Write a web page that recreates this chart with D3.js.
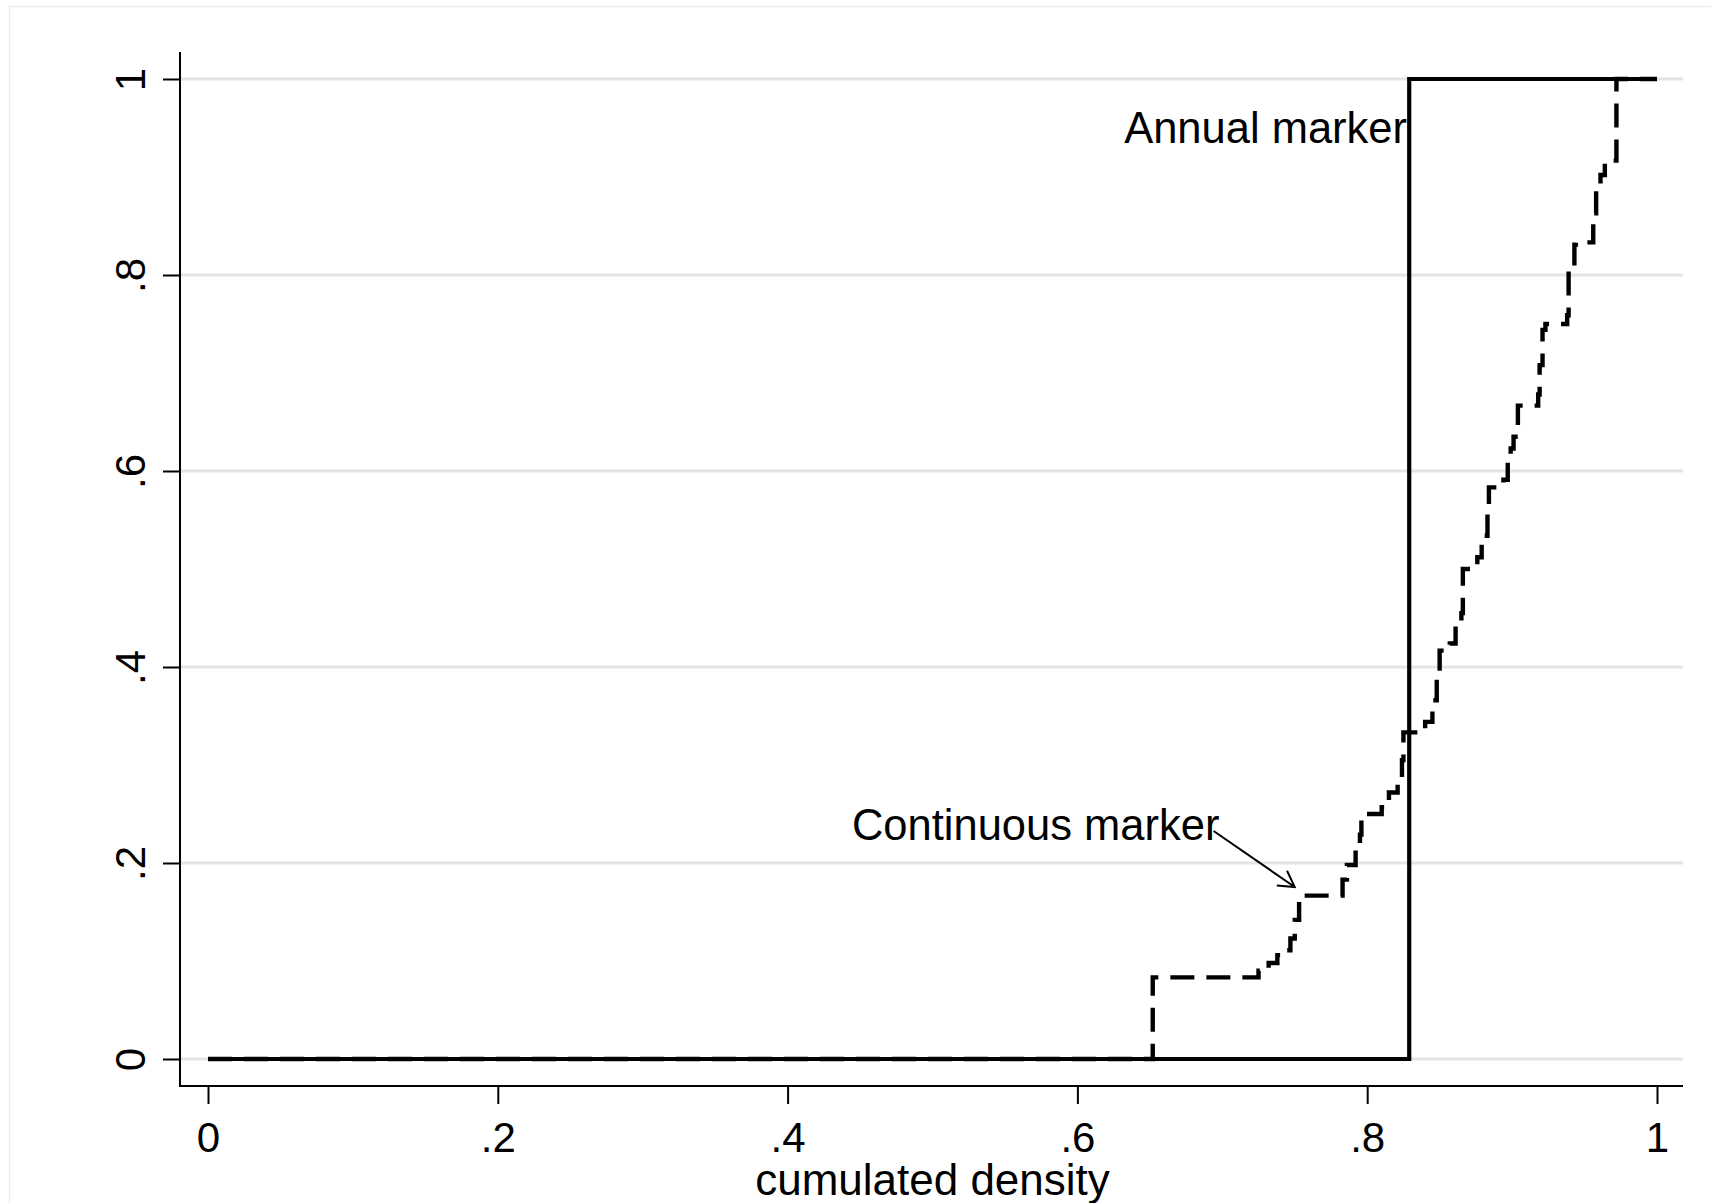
<html>
<head>
<meta charset="utf-8">
<script src="https://d3js.org/d3.v7.min.js"></script>
<style>
    body { margin: 0; background: #fff; }
    svg { display: block; font-family: "Liberation Sans", Arial, sans-serif; }
    .grid line { stroke: #e4e4e4; stroke-width: 3; }
    .axis line { stroke: #000; stroke-width: 2; }
    .axis text { font-size: 42px; fill: #000; }
</style>
</head>
<body>
<svg width="1711" height="1203"></svg>
<script>
// annual marker: one jump
var annualX = [0, 0.829, 1];
var annualY = [0, 1, 1];

var contX = [0, 0.652, 0.725, 0.732, 0.738, 0.742, 0.747, 0.750, 0.753,
             0.783, 0.786, 0.792, 0.795, 0.796,
             0.810, 0.815, 0.821, 0.824, 0.825,
             0.840, 0.845, 0.848, 0.850,
             0.857, 0.861, 0.865, 0.866,
             0.876, 0.879, 0.883, 0.884,
             0.894, 0.897, 0.899, 0.901, 0.904,
             0.918, 0.919, 0.921, 0.923,
             0.938, 0.939, 0.943, 0.944,
             0.956, 0.958, 0.961, 0.964,
             0.972, 1];
var contY = [0, 0.0833, 0.090, 0.098, 0.106, 0.111, 0.123, 0.142, 0.1667,
             0.183, 0.198, 0.220, 0.229, 0.25,
             0.257, 0.272, 0.285, 0.305, 0.3333,
             0.344, 0.366, 0.387, 0.4167,
             0.424, 0.445, 0.455, 0.5,
             0.512, 0.534, 0.560, 0.5833,
             0.591, 0.611, 0.623, 0.635, 0.6667,
             0.678, 0.708, 0.744, 0.75,
             0.759, 0.805, 0.831, 0.8333,
             0.863, 0.887, 0.902, 0.9167,
             1, 1];

var xTicks = [0, 0.2, 0.4, 0.6, 0.8, 1];
var xTickLabels = ["0", ".2", ".4", ".6", ".8", "1"];
var yTicks = [0, 0.2, 0.4, 0.6, 0.8, 1];
var yTickLabels = ["0", ".2", ".4", ".6", ".8", "1"];

var labels = ["Annual marker", "Continuous marker"];
var labelX = [0.8275, 0.698];
var labelY = [0.9347, 0.2235];
var arrowFrom = [0.694, 0.2327];
var arrowTo = [0.750, 0.1755];

var xTitle = "cumulated density";

// layout
var plot = { left: 180, right: 1683, top: 52, bottom: 1086 };
var x = d3.scaleLinear().domain([0, 1]).range([208, 1657]);
var y = d3.scaleLinear().domain([0, 1]).range([1059, 79]);

var svg = d3.select('svg');

// light outer frame of the graph region
svg.append('rect')
    .attr('x', 9.5).attr('y', 6.5)
    .attr('width', 1800).attr('height', 1300)
    .attr('fill', 'none')
    .attr('stroke', '#ececec')
    .attr('stroke-width', 1.5);

// gridlines
svg.append('g')
    .attr('class', 'grid')
    .selectAll('line')
    .data(yTicks)
    .enter()
    .append('line')
    .attr('x1', plot.left).attr('x2', plot.right)
    .attr('y1', function(d) { return y(d); })
    .attr('y2', function(d) { return y(d); });

// axes
var yAxis = svg.append('g')
    .attr('class', 'axis')
    .attr('transform', 'translate(' + plot.left + ',0)')
    .call(d3.axisLeft(y).tickValues(yTicks).tickSize(17)
        .tickFormat(function(d, i) { return yTickLabels[i]; }));
yAxis.select('.domain').remove();
yAxis.selectAll('text')
    .attr('x', null).attr('dy', null)
    .attr('text-anchor', 'middle')
    .attr('transform', 'translate(-35,0) rotate(-90)');

var xAxis = svg.append('g')
    .attr('class', 'axis')
    .attr('transform', 'translate(0,' + plot.bottom + ')')
    .call(d3.axisBottom(x).tickValues(xTicks).tickSize(18)
        .tickFormat(function(d, i) { return xTickLabels[i]; }));
xAxis.select('.domain').remove();
xAxis.selectAll('text').attr('y', 66).attr('dy', null);

svg.append('line')
    .attr('x1', plot.left).attr('x2', plot.left)
    .attr('y1', plot.top).attr('y2', plot.bottom)
    .attr('stroke', '#000').attr('stroke-width', 2);
svg.append('line')
    .attr('x1', plot.left - 1).attr('x2', plot.right)
    .attr('y1', plot.bottom).attr('y2', plot.bottom)
    .attr('stroke', '#000').attr('stroke-width', 2);

// lines
var stepLine = d3.line()
    .x(function(d) { return x(d[0]); })
    .y(function(d) { return y(d[1]); })
    .curve(d3.curveStepAfter);

svg.append('path')
    .datum(contX.map(function(v, i) { return [v, contY[i]]; }))
    .attr('d', stepLine)
    .attr('fill', 'none')
    .attr('stroke', '#000')
    .attr('stroke-width', 4.4)
    .attr('stroke-dasharray', '24,12');

svg.append('path')
    .datum(annualX.map(function(v, i) { return [v, annualY[i]]; }))
    .attr('d', stepLine)
    .attr('fill', 'none')
    .attr('stroke', '#000')
    .attr('stroke-width', 4.2);

// annotations
svg.selectAll('.lbl')
    .data(labels)
    .enter()
    .append('text')
    .attr('class', 'lbl')
    .attr('x', function(d, i) { return x(labelX[i]); })
    .attr('y', function(d, i) { return y(labelY[i]); })
    .attr('text-anchor', 'end')
    .attr('font-size', 43.5)
    .text(function(d) { return d; });

var ax0 = x(arrowFrom[0]), ay0 = y(arrowFrom[1]);
var ax1 = x(arrowTo[0]), ay1 = y(arrowTo[1]);
var ang = Math.atan2(ay0 - ay1, ax0 - ax1);
var barb = 18, spread = Math.PI / 6;
svg.append('path')
    .attr('d', 'M' + ax0 + ',' + ay0 + 'L' + ax1 + ',' + ay1 +
        'M' + (ax1 + barb * Math.cos(ang - spread)) + ',' + (ay1 + barb * Math.sin(ang - spread)) +
        'L' + ax1 + ',' + ay1 +
        'L' + (ax1 + barb * Math.cos(ang + spread)) + ',' + (ay1 + barb * Math.sin(ang + spread)))
    .attr('fill', 'none')
    .attr('stroke', '#000')
    .attr('stroke-width', 2);

// x title
svg.append('text')
    .attr('x', (x(0) + x(1)) / 2)
    .attr('y', 1195)
    .attr('text-anchor', 'middle')
    .attr('font-size', 44)
    .text(xTitle);
</script>
</body>
</html>
